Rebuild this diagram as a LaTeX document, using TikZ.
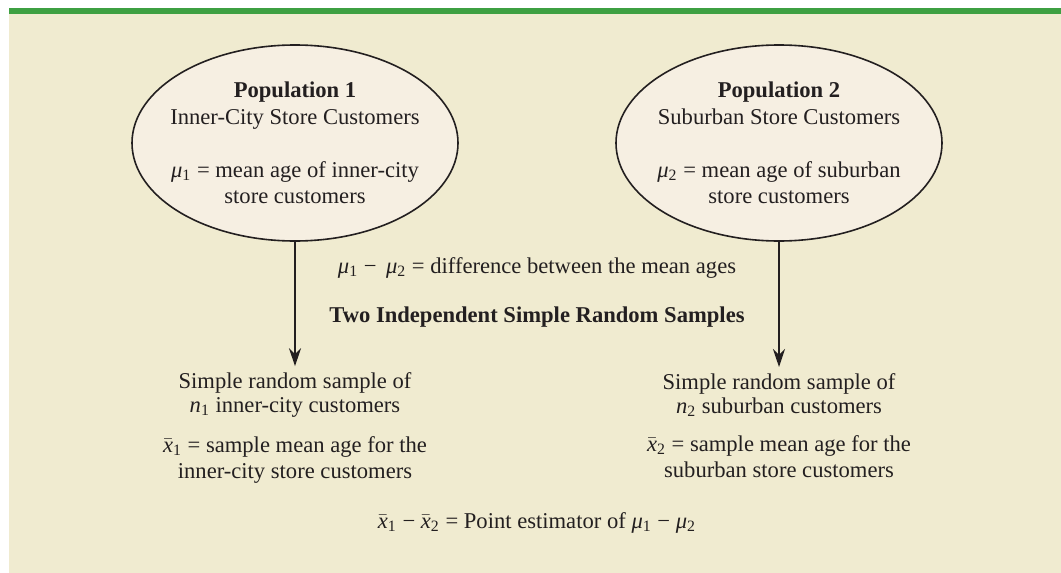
\documentclass[tikz,border=0pt]{standalone}
\usepackage{amsmath}
\usepackage{fontspec}
\setmainfont{Liberation Serif}
\usetikzlibrary{arrows.meta,positioning,shapes.geometric}
\definecolor{BarGreen}{RGB}{62,160,66}
\definecolor{PaperBeige}{RGB}{240,235,208}
\definecolor{EllFill}{RGB}{246,239,226}
\definecolor{Ink}{RGB}{35,31,32}
\newcommand{\mus}[1]{\textit{μ}\textsubscript{#1}}
\newcommand{\xb}[1]{$\bar{\textit{x}}$\textsubscript{#1}}
\newcommand{\ns}[1]{\textit{n}\textsubscript{#1}}
\tikzset{
  popell/.style={ellipse, draw=Ink, line width=0.8pt, fill=EllFill, inner sep=0pt,
    minimum width=163pt, minimum height=98pt},
  txt/.style={text=Ink, align=center, inner sep=0pt},
  samp/.style={txt, font=\fontsize{11.3}{12}\selectfont},
  downarr/.style={-{Stealth[length=9pt,width=6pt]}, draw=Ink, line width=1pt, shorten >=3pt},
}

\begin{document}
\begin{tikzpicture}[x=0.5pt, y=-0.5pt, font=\fontsize{11.3}{13.3}\selectfont]
\useasboundingbox (0,0) rectangle (1061,573);

% ---------------- panel + green rule ----------------
\fill[PaperBeige] (9,14) rectangle (1061,573);
\fill[BarGreen] (9,8) rectangle (1061,14);

% ---------------- the two populations ----------------
\node[popell] (pop1) at (295,143) {};
\node[txt] (pop1txt) at (pop1) {\textbf{Population 1}\\ Inner-City Store Customers\\[13pt]
   \mus{1} = mean age of inner-city\\ store customers};
\node[popell] (pop2) at (779,143) {};
\node[txt] (pop2txt) at (pop2) {\textbf{Population 2}\\ Suburban Store Customers\\[13pt]
   \mus{2} = mean age of suburban\\ store customers};

% centre labels between the arrows
\node[txt] (diff) at (537,268) {\mus{1} −\, \mus{2} = difference between the mean ages};
\node[txt, font=\fontsize{11.3}{13.3}\selectfont\bfseries, below=14pt of diff] (twosamp)
  {Two Independent Simple Random Samples};

% ---------------- the two samples ----------------
\node[samp] (samp1) at (295,395) {Simple random sample of\\ \ns{1} inner-city customers};
\node[txt, below=9pt of samp1] (est1) {\xb{1} = sample mean age for the\\ inner-city store customers};
\node[samp] (samp2) at (779,395) {Simple random sample of\\ \ns{2} suburban customers};
\node[txt, below=9pt of samp2] (est2) {\xb{2} = sample mean age for the\\ suburban store customers};

\draw[downarr] (pop1.south) -- (samp1.north);
\draw[downarr] (pop2.south) -- (samp2.north);

% point estimator at the foot
\node[txt] (pointest) at (537,523) {\xb{1} − \xb{2} = Point estimator of \mus{1} − \mus{2}};

\end{tikzpicture}
\end{document}
